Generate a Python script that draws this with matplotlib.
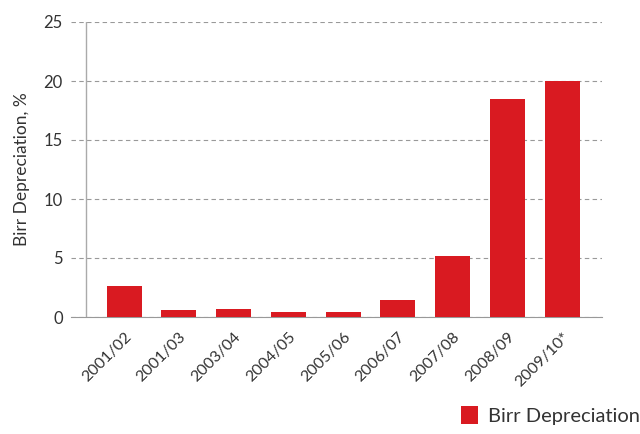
import matplotlib.pyplot as plt

years = ['2001/02', '2001/03', '2003/04', '2004/05', '2005/06',
         '2006/07', '2007/08', '2008/09', '2009/10*']
depreciation = [2.6, 0.6, 0.7, 0.4, 0.4, 1.4, 5.2, 18.5, 20.0]
yticks = [0, 5, 10, 15, 20, 25]

red = '#d91a21'
txt = '#333333'

plt.rcParams['font.family'] = ['Lato', 'DejaVu Sans']

fig = plt.figure(figsize=(6.4, 4.34), dpi=100)
ax = fig.add_axes([71 / 640, 1 - 317 / 434, (602 - 71) / 640, (317 - 22) / 434])

x = list(range(len(years)))
ax.bar(x, depreciation, width=0.64, color=red, zorder=3, label='Birr Depreciation')

ax.set_xlim(-0.97, 8.73)
ax.set_ylim(0, 25)
ax.set_yticks(yticks)
ax.set_yticklabels([str(v) for v in yticks], fontsize=12, color=txt)
ax.tick_params(axis='y', length=0, pad=6)
ax.yaxis.grid(True, linestyle=(0, (4, 3)), color='#999999', linewidth=0.8, zorder=0)

ax.set_xticks(x)
ax.set_xticklabels(years, rotation=45, ha='right', rotation_mode='anchor',
                   fontsize=11.5, color=txt)
ax.tick_params(axis='x', length=0, pad=9)

for s in ['top', 'right', 'left']:
    ax.spines[s].set_visible(False)
ax.spines['bottom'].set_color('#999999')
ax.axvline(-0.69, color='#aaaaaa', linewidth=1.0, zorder=2)

ax.set_ylabel('Birr Depreciation, %', fontsize=12.5, color=txt, labelpad=10)

# legend sits at the bottom right and runs off the edge, as in the source
ax.legend(loc='lower left', bbox_to_anchor=(452 / 640, 0.0),
          bbox_transform=fig.transFigure, frameon=False, fontsize=14.5,
          handlelength=0.85, handleheight=1.0, handletextpad=0.5,
          labelcolor=txt, borderaxespad=0.05)

fig.savefig('out.png', dpi=100)
